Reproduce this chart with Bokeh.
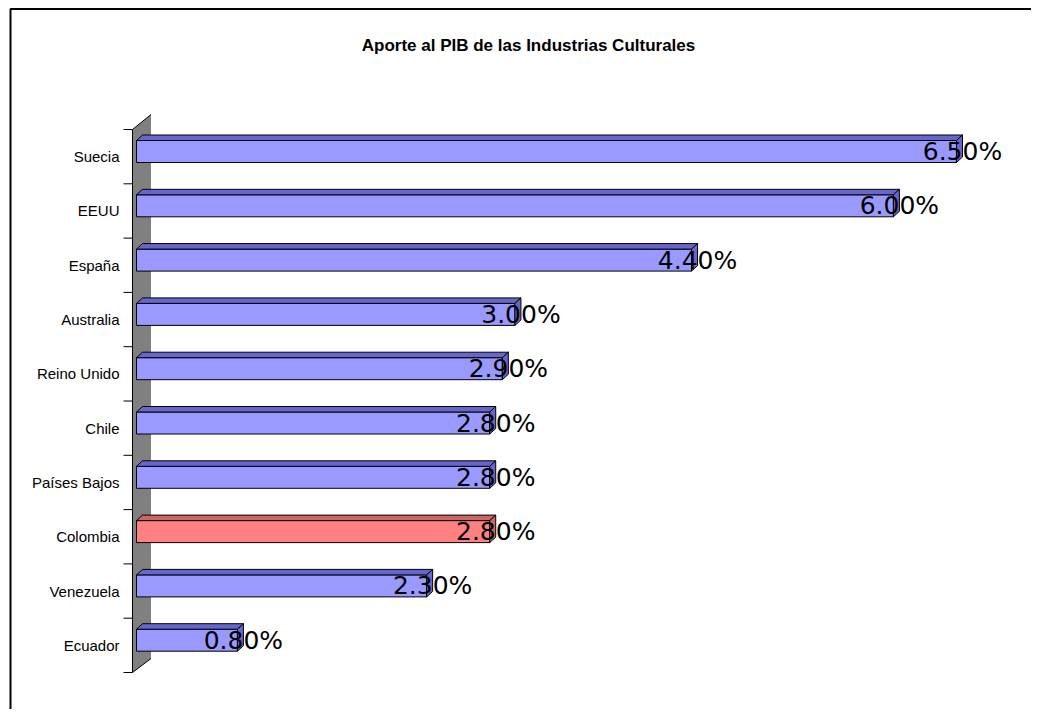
from bokeh.plotting import figure
from bokeh.models import Range1d, ColumnDataSource
from bokeh.core.properties import value
from bokeh.embed import file_html
from bokeh.resources import INLINE

# ---- data ----
title_text = "Aporte al PIB de las Industrias Culturales"
categories = ["Suecia", "EEUU", "España", "Australia", "Reino Unido",
              "Chile", "Países Bajos", "Colombia", "Venezuela", "Ecuador"]
values = [6.5, 6.0, 4.4, 3.0, 2.9, 2.8, 2.8, 2.8, 2.3, 0.8]
highlight = "Colombia"

# ---- layout (pixels) ----
W, H = 1031, 709
OX, OY = 0, 0              # page offset of the figure
X0_PAGE, PX = 136, 126.15  # page x of value 0, pixels per unit
Y0_PAGE, PY = 672, 54.3    # page y of lowest band edge, pixels per band

x_start = (OX - X0_PAGE) / PX
x_end = (OX + W - X0_PAGE) / PX
y_start = (Y0_PAGE - (OY + H)) / PY
y_end = (Y0_PAGE - OY) / PY


def dx(px):
    return px / PX


def dy(px):
    return px / PY


FONT = value("Liberation Sans")
LABEL_FONT = value("DejaVu Sans")

p = figure(width=W, height=H, x_range=Range1d(x_start, x_end),
           y_range=Range1d(y_start, y_end), output_backend="svg",
           toolbar_location=None, tools="", min_border=0,
           x_axis_location=None, y_axis_location=None)
p.xgrid.visible = False
p.ygrid.visible = False
p.outline_line_color = None
p.background_fill_color = "white"
p.border_fill_color = "white"

n = len(categories)

# chart frame (only top/left visible in the window)
p.line([x_start + dx(10), x_start + dx(10), x_end],
       [y_start, y_end - dy(8.5), y_end - dy(8.5)],
       line_color="black", line_width=2)

# 3D wall
wx0, wx1 = dx(-4), dx(14.5)
p.patch([wx0, wx0, wx1, wx1], [0, n, n + dy(15), dy(14)],
        fill_color="#808080", line_color=None)
p.multi_line([[wx0, wx0], [wx0, wx1], [wx0, wx1]],
             [[0, n], [n, n + dy(15)], [0, dy(14)]],
             line_color="black", line_width=1)

# category ticks at band edges
edges = list(range(n + 1))
p.segment(x0=[dx(-13)] * len(edges), x1=[wx0] * len(edges),
          y0=edges, y1=edges, line_color="black", line_width=1)

# bars
DX, DY = dx(6), dy(5.5)
bottoms, tops, fronts, sides = [], [], [], []
top_xs, top_ys, side_xs, side_ys = [], [], [], []
for i, (c, v) in enumerate(zip(categories, values)):
    b = n - 1 - i
    fb = b + dy(21.3)
    ft = b + dy(43.3)
    bottoms.append(fb)
    tops.append(ft)
    if c == highlight:
        fronts.append("#FF8080")
        sides.append("#CC6666")
    else:
        fronts.append("#9999FF")
        sides.append("#6666CC")
    top_xs.append([0, v, v + DX, DX])
    top_ys.append([ft, ft, ft + DY, ft + DY])
    side_xs.append([v, v + DX, v + DX, v])
    side_ys.append([fb, fb + DY, ft + DY, ft])

src = ColumnDataSource(dict(cat=categories, val=values, bottom=bottoms, top=tops,
                            front=fronts, side=sides,
                            txs=top_xs, tys=top_ys, sxs=side_xs, sys=side_ys,
                            lx=[v + DX for v in values],
                            ly=[(b + t) / 2 for b, t in zip(bottoms, tops)],
                            lab=["%.2f%%" % v for v in values],
                            cy=[n - 1 - i + 0.5 for i in range(n)],
                            cx=[dx(-17)] * n))

p.quad(left=0, right="val", bottom="bottom", top="top", source=src,
       fill_color="front", line_color="black", line_width=1)
p.patches(xs="txs", ys="tys", source=src, fill_color="side",
          line_color="black", line_width=1)
p.patches(xs="sxs", ys="sys", source=src, fill_color="side",
          line_color="black", line_width=1)

# category labels
p.text(x="cx", y="cy", text="cat", source=src, text_font=FONT,
       text_font_size="15px", text_align="right", text_baseline="middle",
       text_color="black")

# value labels
p.text(x="lx", y="ly", text="lab", source=src, text_font=LABEL_FONT,
       text_font_size="25px", text_align="center", text_baseline="middle",
       text_color="black")

# title
p.text(x=[dx(528 - X0_PAGE)], y=[dy(Y0_PAGE - 45)], text=[title_text],
       text_font=FONT, text_font_size="17px", text_font_style="bold",
       text_align="center", text_baseline="middle", text_color="black")

open("out.html", "w").write(file_html(p, INLINE))
